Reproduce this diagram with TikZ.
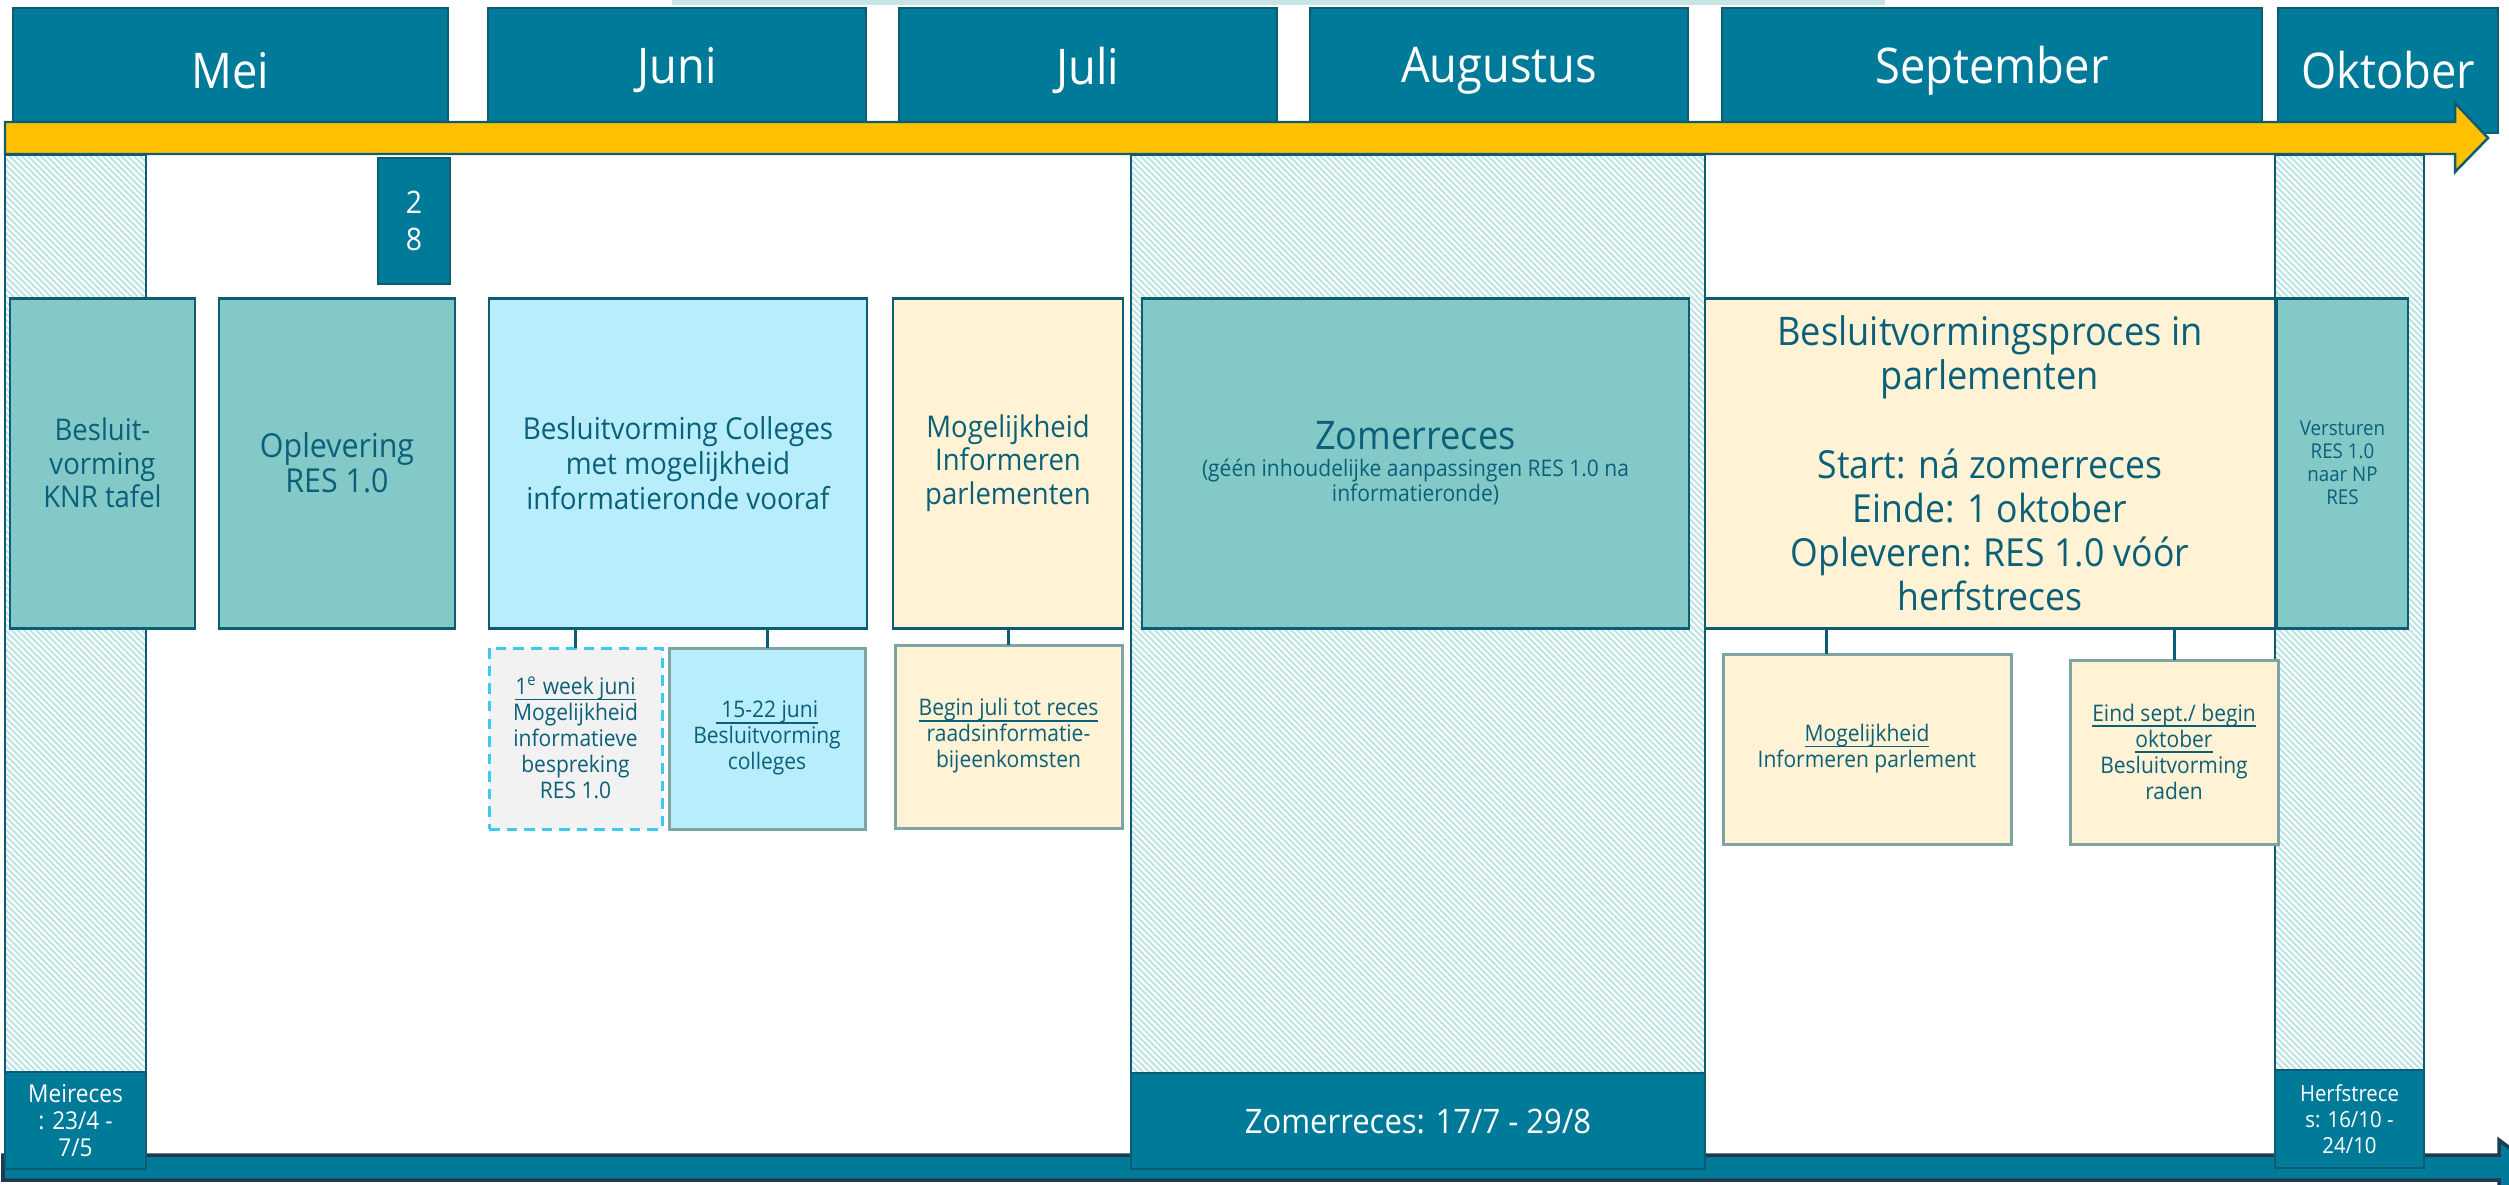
\documentclass[tikz,border=0pt]{standalone}
\usepackage{fontspec}
\setmainfont{Open Sans}[FakeStretch=0.92]
\usetikzlibrary{positioning,patterns.meta}
\definecolor{monthfill}{RGB}{0,122,153}
\definecolor{monthline}{RGB}{12,92,115}
\definecolor{tealbox}{RGB}{131,201,200}
\definecolor{bluebox}{RGB}{184,238,252}
\definecolor{creambox}{RGB}{255,242,213}
\definecolor{greybox}{RGB}{242,242,242}
\definecolor{dashline}{RGB}{61,202,242}
\definecolor{subline}{RGB}{127,164,164}
\definecolor{boxtext}{RGB}{11,96,121}
\definecolor{timeyellow}{RGB}{255,192,0}
\definecolor{hatchline}{RGB}{190,227,227}
\definecolor{topstrip}{RGB}{200,229,229}
\definecolor{barline}{RGB}{30,59,82}
\tikzset{
	month/.style={
		rectangle,
		draw=monthline,
		line width=0.8pt,
		fill=monthfill,
		text=white,
		font=\fontsize{14}{17}\selectfont,
		minimum height=12.5mm,
		inner sep=0pt,
		outer sep=0pt,
	},
	phase/.style={
		rectangle,
		draw=monthline,
		line width=0.85pt,
		text=boxtext,
		align=center,
		minimum height=33mm,
		inner sep=0pt,
		outer sep=0pt,
		font=\fontsize{8.5}{9.6}\selectfont,
	},
	detail/.style={
		rectangle,
		draw=subline,
		line width=0.85pt,
		text=boxtext,
		align=center,
		inner sep=0pt,
		outer sep=0pt,
		font=\fontsize{6.5}{7.4}\selectfont,
	},
	recess/.style={
		draw=monthline,
		line width=0.5pt,
		pattern={Lines[angle=-45,distance=1.25pt,line width=0.6pt]},
		pattern color=hatchline,
	},
	recesslabel/.style={
		rectangle,
		draw=monthline,
		line width=0.8pt,
		fill=monthfill,
		text=white,
		align=center,
		inner sep=0pt,
		outer sep=0pt,
	},
	link/.style={
		draw=monthline,
		line width=0.85pt,
	},
}
\newcommand{\proctitle}{\fontsize{11.2}{13}\selectfont}
\newcommand{\dateline}[1]{\underline{\smash{#1}}\vphantom{Ag}}
\begin{document}
\begin{tikzpicture}[x=0.1mm,y=-0.1mm]
	\useasboundingbox (0,0) rectangle (2509,1184);
	\clip (0,0) rectangle (2509,1184);
	% months
	\fill[topstrip] (672,0) rectangle (1885,5);
	\node[month,minimum width=43.5mm,anchor=north west] (mei) at (13,8) {Mei};
	\node[month,minimum width=37.8mm,right=4mm of mei] (juni) {Juni};
	\node[month,minimum width=37.8mm,right=3.3mm of juni] (juli) {Juli};
	\node[month,minimum width=37.8mm,right=3.3mm of juli] (augustus) {Augustus};
	\node[month,minimum width=54mm,right=3.4mm of augustus] (september) {September};
	\node[month,minimum width=22mm,right=1.6mm of september] (oktober) {Oktober};
	
	% recess columns
	\draw[recess] (5,155) rectangle (146,1169);
	\draw[recess] (1131,155) rectangle (1705,1169);
	\draw[recess] (2275,155) rectangle (2424,1168);
	
	% timeline
	\draw[fill=timeyellow,draw=monthline,line width=0.7pt] (5,122) -- (2455,122) -- (2455,103) -- (2488,138) -- (2455,172) -- (2455,154) -- (5,154) -- cycle;
	
	\node[recesslabel,minimum width=7.2mm,minimum height=12.6mm,anchor=north west,font=\fontsize{8.8}{10.5}\selectfont] (day) at (378,158) {\raisebox{-3pt}{2}\\\raisebox{-3pt}{8}};
	
	% phases
	\node[phase,fill=tealbox,minimum width=18.5mm,anchor=north west] (knr) at (10,298) {Besluit-\\vorming\\KNR tafel};
	\node[phase,fill=tealbox,minimum width=23.6mm,right=2.4mm of knr,font=\fontsize{9.4}{10}\selectfont] (oplevering) {Oplevering\\RES 1.0};
	\node[phase,fill=bluebox,minimum width=37.8mm,right=3.4mm of oplevering,font=\fontsize{8.6}{10}\selectfont] (colleges) {Besluitvorming Colleges\\met mogelijkheid\\informatieronde vooraf};
	\node[phase,fill=creambox,minimum width=23mm,right=2.6mm of colleges] (infoparl) {Mogelijkheid\\Informeren\\parlementen};
	\node[phase,fill=tealbox,minimum width=54.7mm,right=1.9mm of infoparl,font=\fontsize{6.5}{7.1}\selectfont] (zomer) {{\fontsize{11.2}{13}\selectfont Zomerreces}\\[0.6pt](géén inhoudelijke aanpassingen RES 1.0 na\\informatieronde)};
	\node[phase,fill=creambox,minimum width=57mm,right=1.6mm of zomer,font=\fontsize{11}{12.5}\selectfont] (proces) {{\proctitle Besluitvormingsproces in}\\{\proctitle parlementen}\\[13pt]Start: ná zomerreces\\Einde: 1 oktober\\Opleveren: RES 1.0 vóór\\herfstreces};
	\node[phase,fill=tealbox,minimum width=13.1mm,right=0.2mm of proces,font=\fontsize{5.8}{6.5}\selectfont] (versturen) {Versturen\\RES 1.0\\naar NP\\RES};
	
	% details
	\node[detail,fill=greybox,draw=dashline,dash pattern=on 3pt off 2pt,minimum width=17.3mm,minimum height=18.1mm,anchor=north west] (week) at (489,648) {\dateline{1\textsuperscript{e} week juni}\\Mogelijkheid\\informatieve\\bespreking\\RES 1.0};
	\node[detail,fill=bluebox,minimum width=19.6mm,minimum height=18.1mm,right=0.7mm of week] (juni1522) {\dateline{\ 15-22 juni}\\Besluitvorming\\colleges};
	\node[detail,fill=creambox,minimum width=22.7mm,minimum height=18.3mm,anchor=north west] (julireces) at (895,645) {\dateline{Begin juli tot reces}\\raadsinformatie-\\bijeenkomsten};
	\node[detail,fill=creambox,minimum width=28.8mm,minimum height=19mm,anchor=north west] (parl) at (1723,654) {\dateline{Mogelijkheid}\\Informeren parlement};
	\node[detail,fill=creambox,minimum width=20.8mm,minimum height=18.4mm,anchor=north west] (eindsept) at (2070,660) {\dateline{Eind sept./ begin}\\\dateline{oktober}\\Besluitvorming\\raden};
	
	\draw[link] (colleges.south -| week.north) -- (week.north);
	\draw[link] (colleges.south -| juni1522.north) -- (juni1522.north);
	\draw[link] (infoparl.south -| julireces.north) -- (julireces.north);
	\coordinate[left=4.1mm of parl.north] (parl-link);
	\draw[link] (proces.south -| parl-link) -- (parl-link);
	\draw[link] (proces.south -| eindsept.north) -- (eindsept.north);
	
	% bottom bar
	\draw[fill=monthfill,draw=barline,line width=1pt] (3,1155) -- (2499,1155) -- (2499,1140) -- (2535,1167) -- (2499,1194) -- (2499,1180) -- (3,1180) -- cycle;
	\node[recesslabel,minimum width=14.1mm,minimum height=9.7mm,anchor=north west,font=\fontsize{7}{7.8}\selectfont] (meireces) at (5,1072) {Meireces\\: 23/4 -\\7/5};
	\node[recesslabel,minimum width=57.4mm,minimum height=9.6mm,anchor=north west,font=\fontsize{9.6}{12}\selectfont] (zomerlabel) at (1131,1073) {Zomerreces: 17/7 - 29/8};
	\node[recesslabel,minimum width=14.9mm,minimum height=9.8mm,anchor=north west,font=\fontsize{6.3}{7.4}\selectfont] (herfstlabel) at (2275,1070) {Herfstrece\\s: 16/10 -\\24/10};
\end{tikzpicture}
\end{document}
